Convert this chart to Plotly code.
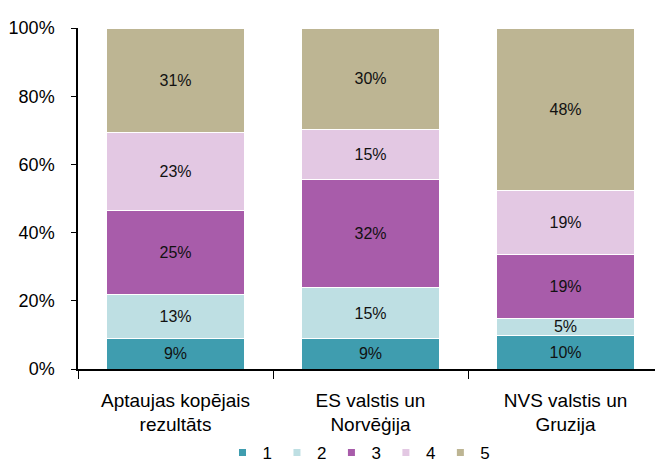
import plotly.graph_objects as go

categories = ["Aptaujas kopējais<br>rezultāts", "ES valstis un<br>Norvēģija", "NVS valstis un<br>Gruzija"]
series_names = ["1", "2", "3", "4", "5"]
values_1 = [9, 9, 10]
values_2 = [13, 15, 5]
values_3 = [25, 32, 19]
values_4 = [23, 15, 19]
values_5 = [31, 30, 48]
colors = ["#3F9DAF", "#BEDFE3", "#A85CAA", "#E3C8E3", "#BDB593"]

series = [values_1, values_2, values_3, values_4, values_5]
FONT = "Liberation Sans, Arial, sans-serif"

fig = go.Figure()
for name, vals, col in zip(series_names, series, colors):
    fig.add_trace(go.Bar(
        x=categories,
        y=vals,
        name=name,
        showlegend=False,
        marker=dict(color=col, line=dict(color="white", width=1)),
        text=[f"{v}%" for v in vals],
        textposition="inside",
        insidetextanchor="middle",
        textangle=0,
        textfont=dict(color="#111111", size=16, family=FONT),
        width=0.71,
    ))
# legend entries with small square symbols
for name, col in zip(series_names, colors):
    fig.add_trace(go.Scatter(
        x=[None], y=[None], mode="markers", name=name,
        marker=dict(symbol="square", size=7, color=col),
        showlegend=True,
    ))

fig.update_layout(
    barmode="stack",
    barnorm="percent",
    width=655,
    height=464,
    margin=dict(l=78, r=0, t=28, b=95, autoexpand=False),
    paper_bgcolor="white",
    plot_bgcolor="white",
    font=dict(family=FONT, size=18, color="#000000"),
    uniformtext=dict(minsize=16, mode="show"),
    showlegend=True,
    legend=dict(
        orientation="h",
        x=0.487,
        xanchor="center",
        y=-0.246,
        yanchor="middle",
        font=dict(size=17),
        itemwidth=30,
        tracegroupgap=0,
        traceorder="normal",
        bgcolor="rgba(0,0,0,0)",
        borderwidth=0,
    ),
    xaxis=dict(
        range=[-0.5, 2.459],
        showline=True,
        linecolor="black",
        linewidth=1.5,
        ticks="outside",
        tickson="boundaries",
        ticklen=8,
        tickcolor="black",
        showgrid=False,
        tickfont=dict(size=19),
        ticklabelstandoff=13,
        automargin=False,
    ),
    yaxis=dict(
        range=[0, 100],
        tickvals=[0, 20, 40, 60, 80, 100],
        ticktext=["0%", "20%", "40%", "60%", "80%", "100%"],
        showline=True,
        linecolor="black",
        linewidth=1.5,
        ticks="outside",
        ticklen=5,
        tickcolor="black",
        showgrid=False,
        zeroline=False,
        tickfont=dict(size=18),
        ticklabelstandoff=13,
        automargin=False,
    ),
)

fig.write_html(
    "out.html",
    config={"displayModeBar": False},
    post_script="document.body.style.margin='0';document.body.style.overflow='hidden';",
)
